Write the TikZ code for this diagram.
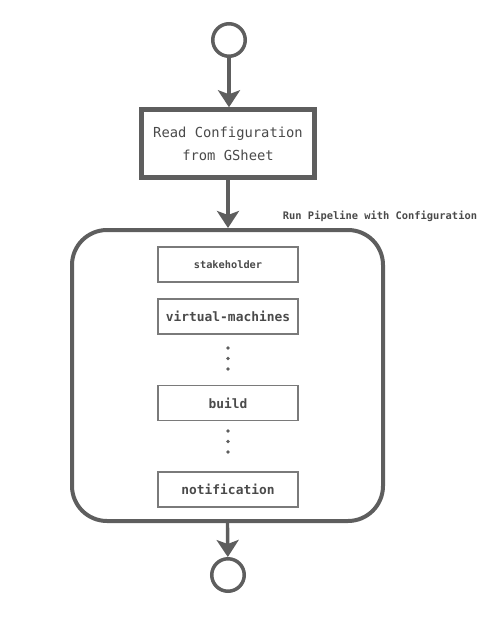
\documentclass[tikz,border=0pt]{standalone}
\usepackage{fontspec}
\setmonofont{DejaVu Sans Mono}
\usetikzlibrary{arrows.meta}
\definecolor{edge}{HTML}{5E5E5E}
\definecolor{thin}{HTML}{7A7A7A}
\definecolor{txt}{HTML}{4A4A4A}
\begin{document}
\begin{tikzpicture}[x=1pt,y=-1pt,
  term/.style={circle,draw=edge,line width=3.5pt,minimum size=32.5pt,inner sep=0pt,fill=white},
  mainbox/.style={draw=edge,line width=4.5pt,minimum width=173pt,minimum height=68pt,inner sep=0pt,align=center,
    font=\ttfamily\fontsize{13.8}{23}\selectfont,text=txt,fill=white},
  container/.style={draw=edge,line width=4pt,rounded corners=35pt,minimum width=311pt,minimum height=291pt,inner sep=0pt},
  stepbox/.style={draw=thin,line width=1.3pt,minimum width=140pt,minimum height=35pt,inner sep=0pt,
    font=\ttfamily\bfseries\fontsize{12.9}{15}\selectfont,text=txt,text depth=0pt},
  smallstep/.style={stepbox,font=\ttfamily\bfseries\fontsize{10.3}{12}\selectfont},
  dot/.style={circle,fill=edge,minimum size=3.6pt,inner sep=0pt},
  lbl/.style={font=\ttfamily\bfseries\fontsize{10.4}{12}\selectfont,text=txt,inner sep=0pt},
  arr/.style={draw=edge,line width=3.4pt,-{Stealth[length=17pt,width=22pt,inset=4pt]}}
]
\useasboundingbox (0,0) rectangle (501,619);
\node[term] (start) at (229,40) {};
\node[mainbox] (read) at (228,143.5) {Read Configuration\\from GSheet};
\node[container] (pipe) at (227.5,375.5) {};
\node[lbl] (runlbl) at (380,216) {Run Pipeline with Configuration};
\node[smallstep] (stake) at (228,264.5) {stakeholder};
\node[stepbox] (vm) at (228,316.5) {virtual-machines};
\node[dot] (d1) at (228,348) {};
\node[dot] (d2) at (228,358.5) {};
\node[dot] (d3) at (228,369) {};
\node[stepbox] (build) at (228,403) {build};
\node[dot] (d4) at (228,431) {};
\node[dot] (d5) at (228,441.5) {};
\node[dot] (d6) at (228,452) {};
\node[stepbox] (notif) at (228,489.5) {notification};
\node[term] (stop) at (228,575) {};
\draw[arr] (start) -- (start |- read.north);
\draw[arr] (read) -- (read |- pipe.north);
\draw[arr] (pipe.south) -- (stop);
\end{tikzpicture}
\end{document}
